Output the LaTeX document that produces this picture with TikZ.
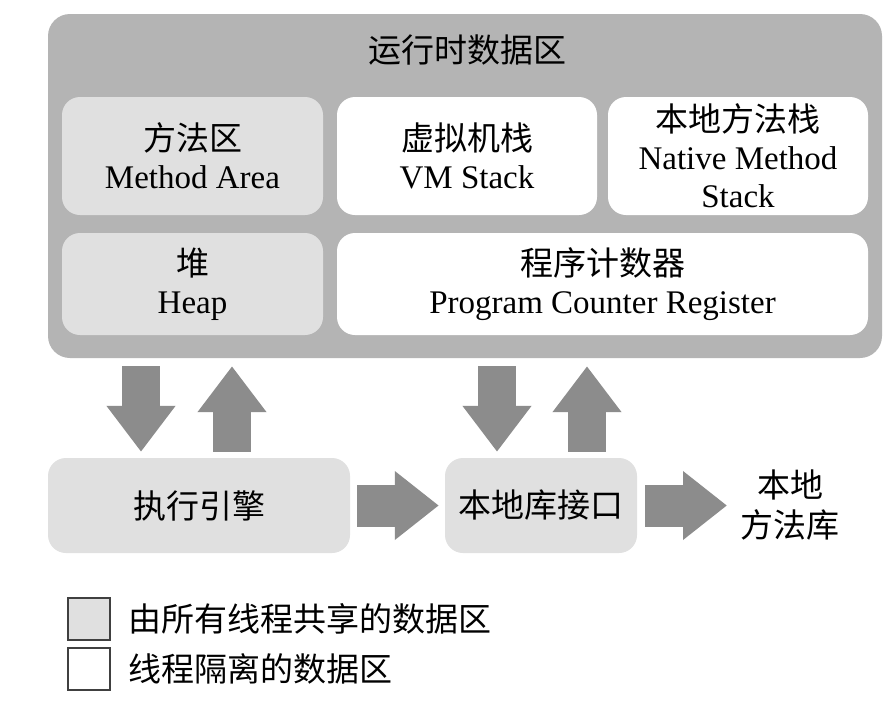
\documentclass[tikz,border=0pt]{standalone}
\usepackage{fontspec}
\setmainfont{Liberation Serif}
\newfontfamily\cjk{Noto Sans CJK SC}
\usetikzlibrary{arrows.meta}
\definecolor{outergray}{RGB}{180,180,180}
\definecolor{sharedgray}{RGB}{224,224,224}
\definecolor{arrowgray}{RGB}{140,140,140}
\tikzset{
  box/.style={rounded corners=18pt, minimum width=#1, align=center, inner sep=0pt,
              font=\fontsize{33}{38}\selectfont},
  shared/.style={fill=sharedgray},
  private/.style={fill=white},
  blockv/.style={line width=38pt, draw=arrowgray,
                 -{Triangle[width=66pt,length=46pt]}},
  blockh/.style={line width=42pt, draw=arrowgray,
                 -{Triangle[width=66pt,length=44pt]}},
  legbox/.style={draw=black!75, line width=1.2pt, minimum width=42pt, minimum height=42pt, inner sep=0pt},
  legtext/.style={anchor=west, inner sep=0pt, font=\fontsize{33}{36}\selectfont\cjk}
}
\begin{document}
\begin{tikzpicture}[x=1pt,y=-1pt]
\useasboundingbox[fill=white] (0,0) rectangle (896,713);
% outer runtime data area
\node[fill=outergray, rounded corners=22pt, minimum width=834pt, minimum height=344pt, inner sep=0pt] (rt) at (465,186) {};
\node[font=\fontsize{33}{36}\selectfont\cjk] (title) at (467,50) {运行时数据区};
% inner areas
\node[box=261pt, shared, minimum height=118pt] (ma) at (192.5,156) {{\cjk 方法区}\\Method Area};
\node[box=260pt, private, minimum height=118pt] (vm) at (467,156) {{\cjk 虚拟机栈}\\VM Stack};
\node[box=260pt, private, minimum height=118pt] (nm) at (738,156) {{\cjk 本地方法栈}\\Native Method\\Stack};
\node[box=261pt, shared, minimum height=102pt] (heap) at (192.5,284) {{\cjk 堆}\\Heap};
\node[box=531pt, private, minimum height=102pt] (pc) at (602.5,284) {{\cjk 程序计数器}\\Program Counter Register};
% bottom row
\node[box=302pt, shared, minimum height=95pt, font=\fontsize{33}{36}\selectfont\cjk] (ee) at (199,505.5) {执行引擎};
\node[box=192pt, shared, minimum height=95pt, font=\fontsize{33}{36}\selectfont\cjk] (nli) at (541,505.5) {本地库接口};
\node[align=center, inner sep=0pt, font=\fontsize{33}{40}\selectfont\cjk] (nlib) at (790,505) {本地\\方法库};
% arrow anchor columns
\coordinate (c1) at (141,0);
\coordinate (c2) at (232,0);
\coordinate (c3) at (497,0);
\coordinate (c4) at (587,0);
% vertical block arrows
\draw[blockv, shorten <=8pt, shorten >=6pt] (rt.south -| c1) -- (ee.north -| c1);
\draw[blockv, shorten <=6pt, shorten >=8pt] (ee.north -| c2) -- (rt.south -| c2);
\draw[blockv, shorten <=8pt, shorten >=6pt] (rt.south -| c3) -- (nli.north -| c3);
\draw[blockv, shorten <=6pt, shorten >=8pt] (nli.north -| c4) -- (rt.south -| c4);
% horizontal block arrows
\draw[blockh, shorten <=7pt, shorten >=6pt] (ee.east) -- (nli.west);
\coordinate (h2end) at (727,505.5);
\draw[blockh, shorten <=8pt] (nli.east) -- (h2end);
% legend
\node[legbox, fill=sharedgray] (l1) at (89,619) {};
\node[legbox, fill=white] (l2) at (89,669) {};
\node[legtext] (t1) at (128,619) {由所有线程共享的数据区};
\node[legtext] (t2) at (128,669) {线程隔离的数据区};
\end{tikzpicture}
\end{document}
